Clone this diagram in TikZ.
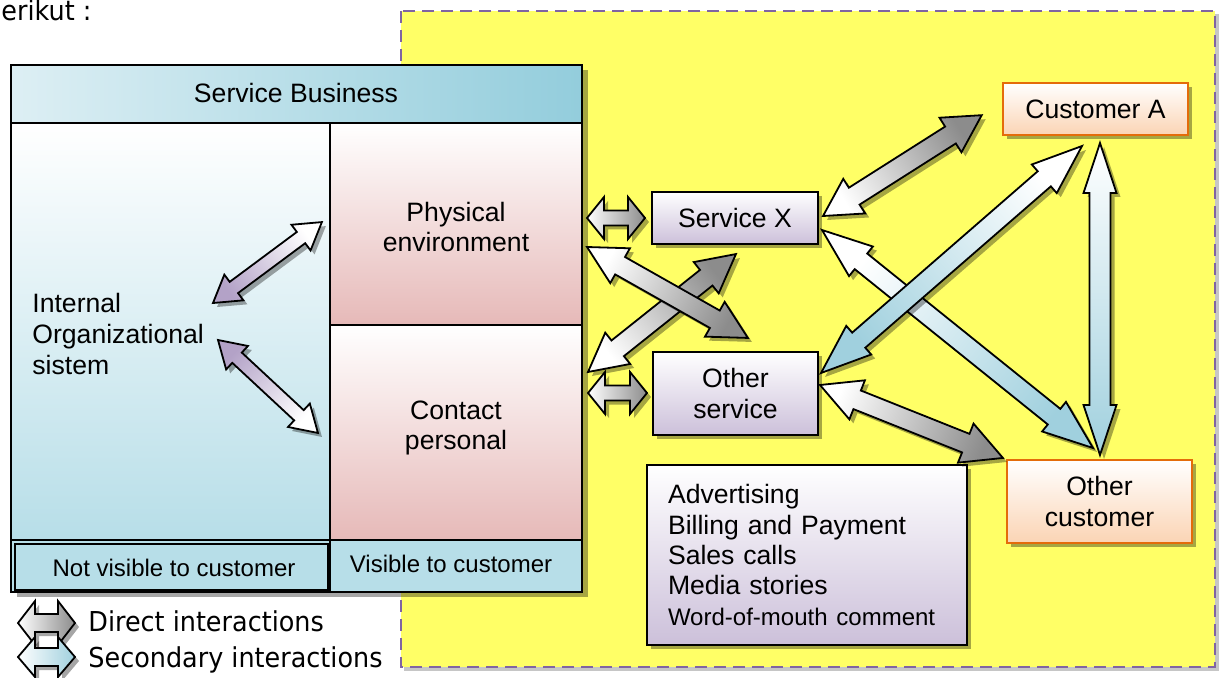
\documentclass[tikz,border=0pt]{standalone}
\usepackage{fontspec}
\setmainfont{Liberation Sans}
\newfontfamily\legfont{DejaVu Sans}[FakeStretch=0.93]
\usetikzlibrary{calc,shadows}
\definecolor{yel}{HTML}{FFFF66}
\definecolor{dashpurple}{HTML}{8064A2}
\definecolor{hdrL}{HTML}{DDEFF4}
\definecolor{hdrR}{HTML}{93CDDC}
\definecolor{lblue}{HTML}{B7DEE8}
\definecolor{pinkb}{HTML}{E6B9B8}
\definecolor{lav}{HTML}{CCC0DA}
\definecolor{lavd}{HTML}{B3A2C7}
\definecolor{peach}{HTML}{FBD4B4}
\definecolor{orangeb}{HTML}{E46C0A}
\definecolor{arrgray}{HTML}{8C8C8C}
\definecolor{arrblue}{HTML}{A0D0DE}
\makeatletter
\newcommand\blkarrow[7]{%
  \pgfmathanglebetweenpoints{\pgfpointanchor{#1}{center}}{\pgfpointanchor{#2}{center}}%
  \edef\ba@ang{\pgfmathresult}%
  \pgfpointdiff{\pgfpointanchor{#1}{center}}{\pgfpointanchor{#2}{center}}%
  \edef\ba@dx{\the\pgf@x}\edef\ba@dy{\the\pgf@y}%
  \pgfmathveclen{\ba@dx}{\ba@dy}%
  \edef\ba@len{\pgfmathresult}%
  \pgfpointanchor{#1}{center}%
  \edef\ba@x{\the\pgf@x}\edef\ba@y{\the\pgf@y}%
  \pgfmathsetmacro\ba@sang{\ba@ang-90}%
  \pgfmathsetmacro\ba@e{\ba@len-#5}%
  \def\ba@poly{(0pt,0pt) -- (#5pt,#4pt) -- (#5pt,#3pt) -- (\ba@e pt,#3pt) -- (\ba@e pt,#4pt) -- (\ba@len pt,0pt) -- (\ba@e pt,-#4pt) -- (\ba@e pt,-#3pt) -- (#5pt,-#3pt) -- (#5pt,-#4pt) -- cycle}%
  \begin{scope}[shift={({\ba@x+2pt},{\ba@y-2pt})},rotate=\ba@ang]
    \fill[arrowshadow] \ba@poly;
  \end{scope}
  \begin{scope}[shift={(\ba@x,\ba@y)},rotate=\ba@ang]
    \draw[arrowline, top color=#7, bottom color=#6, shading angle=\ba@sang] \ba@poly;
  \end{scope}
}
\makeatother
\begin{document}
\begin{tikzpicture}[x=0.5pt,y=-0.5pt,
  txt/.style={font=\fontsize{13.3pt}{15.3pt}\selectfont, align=center, inner sep=0pt},
  small/.style={font=\fontsize{12pt}{14pt}\selectfont, inner sep=0pt},
  legend/.style={font=\legfont\fontsize{13.7pt}{16pt}\selectfont, inner sep=0pt, anchor=base west},
  boxshadow/.style={general shadow={fill=black, opacity=0.35, shadow xshift=2pt, shadow yshift=-2pt}},
  lavbox/.style={draw=black, line width=1pt, top color=white, bottom color=lav, boxshadow, txt},
  custbox/.style={draw=orangeb, line width=1.3pt, top color=white, bottom color=peach, boxshadow, txt},
  arrowline/.style={draw=black, line width=0.9pt, line join=miter},
  arrowshadow/.style={fill=black, opacity=0.35},
  frame/.style={draw=black, line width=1pt},
]
\useasboundingbox (0,0) rectangle (1224,678);
% top text
\node[legend] (berikut) at (1,21) {erikut :};
% yellow region
\fill[gray!45] (404,14) rectangle (1219,671);
\draw[dashpurple, line width=1pt, dash pattern=on 6pt off 3.5pt, fill=yel] (401,11) rectangle (1215,667);
% service business
\fill[black, opacity=0.35] (17,70) rectangle (588,597);
\shade[left color=hdrL, right color=hdrR] (11,65) rectangle (582,123);
\shade[top color=white, bottom color=lblue] (11,123) rectangle (330,540);
\shade[top color=white, bottom color=pinkb] (330,123) rectangle (582,325);
\shade[top color=white, bottom color=pinkb] (330,325) rectangle (582,540);
\fill[lblue] (11,540) rectangle (582,592);
\draw[frame] (11,65) rectangle (582,592);
\draw[frame] (11,123) -- (582,123);
\draw[frame] (330,123) -- (330,592);
\draw[frame] (330,325) -- (582,325);
\draw[frame] (11,540) -- (582,540);
\draw[frame] (15,544) rectangle (328,590);
\node[txt] (sb) at (296,93) {Service Business};
\node[txt, align=left, anchor=west] (ios) at (32,334) {Internal\\Organizational\\sistem};
\node[txt] (pe) at (456,227) {Physical\\environment};
\node[txt] (cp) at (456,428) {Contact\\personal};
\node[small] (nv) at (174,568) {Not visible to customer};
\node[small] (vc) at (451,564) {Visible to customer};
% right boxes
\node[lavbox, minimum width=83pt, minimum height=26pt] (sx) at (735,218) {Service X};
\node[lavbox, minimum width=82.5pt, minimum height=41.5pt] (os) at (735.5,393.5) {Other\\service};
\node[custbox, minimum width=92.5pt, minimum height=26pt] (ca) at (1095.5,109) {Customer A};
\node[custbox, minimum width=92.5pt, minimum height=41.5pt] (oc) at (1099.5,501.5) {Other\\customer};
\node[lavbox, minimum width=160pt, minimum height=90pt, text width=139pt, align=left, inner xsep=10.5pt, font=\fontsize{13.3pt}{15.2pt}\selectfont] (media) at (807,555)
  {Advertising\\Billing and Payment\\Sales calls\\Media stories\\{\fontsize{12pt}{15.2pt}\selectfont Word-of-mouth comment}};
% arrow end points
\coordinate (ia1) at (213,303); \coordinate (ib1) at (322,222);
\coordinate (ia2) at (218,340); \coordinate (ib2) at (318,433);
\coordinate (ha1) at (587,218); \coordinate (hb1) at (645,218);
\coordinate (ha2) at (588,393); \coordinate (hb2) at (647,393);
\coordinate (da1) at (588,372); \coordinate (db1) at (736,254);
\coordinate (da2) at (587,247); \coordinate (db2) at (748,338);
\coordinate (ga1) at (823,216); \coordinate (gb1) at (982,115);
\coordinate (ga2) at (820,385); \coordinate (gb2) at (1003,458);
\coordinate (ba1) at (822,230); \coordinate (bb1) at (1093,448);
\coordinate (ba2) at (1082,146); \coordinate (bb2) at (821,373);
\coordinate (ba3) at (1100,143); \coordinate (bb3) at (1100,455);
\coordinate (la1) at (18,623); \coordinate (lb1) at (75,623);
\coordinate (la2) at (18,657); \coordinate (lb2) at (75,657);
% arrows
\blkarrow{ia1}{ib1}{3.5}{8}{13}{lavd}{white}
\blkarrow{ia2}{ib2}{3.5}{8}{13}{lavd}{white}
\blkarrow{ha1}{hb1}{3.75}{10.5}{8.5}{white}{arrgray}
\blkarrow{ha2}{hb2}{3.75}{10.5}{8.5}{white}{arrgray}
\blkarrow{da1}{db1}{5}{10}{19}{white}{arrgray}
\blkarrow{da2}{db2}{5}{10}{19}{white}{arrgray}
\blkarrow{ga1}{gb1}{5}{10.25}{18.5}{white}{arrgray}
\blkarrow{ga2}{gb2}{5}{10.5}{20}{white}{arrgray}
\blkarrow{ba1}{bb1}{5}{9.5}{25}{white}{arrblue}
\blkarrow{ba2}{bb2}{5}{9.5}{25}{white}{arrblue}
\blkarrow{ba3}{bb3}{5.25}{8.25}{25}{white}{arrblue}
% legend
\blkarrow{la1}{lb1}{4.5}{11}{8.5}{white}{arrgray}
\blkarrow{la2}{lb2}{4.5}{10}{8.5}{white}{arrblue}
\node[legend] (ldir) at (88,631) {Direct interactions};
\node[legend] (lsec) at (88,667) {Secondary interactions};
\end{tikzpicture}
\end{document}
